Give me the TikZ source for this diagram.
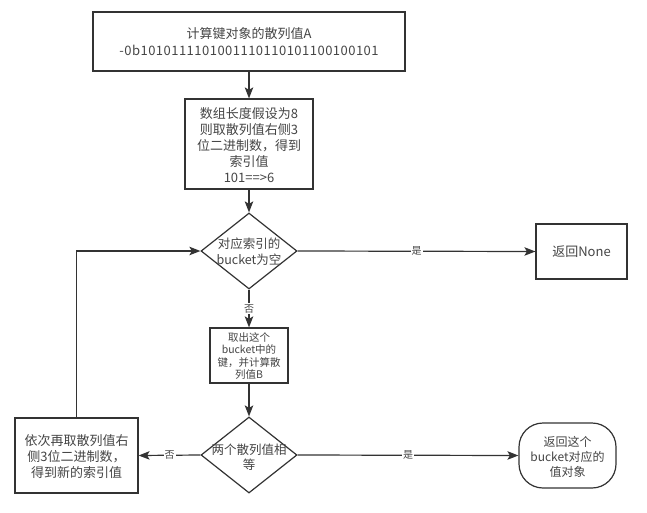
\documentclass[tikz,border=0pt]{standalone}
\usepackage{fontspec}
\newfontfamily\cjk{Noto Sans CJK SC}
\newfontfamily\cjkwide[LetterSpace=3.7]{Noto Sans CJK SC}
\usetikzlibrary{arrows.meta,shapes.geometric}
\definecolor{linec}{HTML}{333333}
\definecolor{textc}{HTML}{454545}
\tikzset{
  x=1pt,y=-1pt,
  every node/.style={text=textc},
  box/.style={draw=linec,line width=1.2pt,inner sep=0pt},
  dia/.style={draw=linec,line width=1.2pt,shape=diamond,inner sep=0pt},
  arr/.style={draw=linec,line width=1.2pt,-{Stealth[length=11pt,width=8.5pt,inset=2.5pt]}},
  lab/.style={fill=white,inner sep=1pt,font=\cjk\fontsize{10}{12}\selectfont},
  txt/.style={align=center,inner sep=0pt}
}
\begin{document}
\begin{tikzpicture}
\useasboundingbox (0,0) rectangle (647,513);
\fill[white] (0,0) rectangle (647,513);
% top box
\node[box,minimum width=312pt,minimum height=59pt] (a) at (249,41.5) {};
\node[txt,font=\cjk\fontsize{13}{17}\selectfont] (at) at (a) {计算键对象的散列值A\\{\cjkwide -0b1010111101001110110101100100101}};
% box 2
\node[box,minimum width=128pt,minimum height=90pt] (b) at (249,144) {};
\node[txt,font=\cjk\fontsize{13}{16}\selectfont] (bt) at (249,145) {数组长度假设为8\\则取散列值右侧3\\位二进制数，得到\\索引值\\101==>6};
% diamond 1
\node[dia,minimum width=96pt,minimum height=76pt] (c) at (249,251) {};
\node[txt,font=\cjk\fontsize{12.5}{16}\selectfont] (ct) at (249,252) {对应索引的\\bucket为空};
% return None
\node[box,minimum width=91pt,minimum height=55pt] (n) at (581.5,251.5) {};
\node[txt,font=\cjk\fontsize{13}{16}\selectfont] (nt) at (n) {返回None};
% box 3
\node[box,minimum width=78pt,minimum height=55pt] (d) at (249,355.5) {};
\node[txt,font=\cjk\fontsize{10.5}{12.5}\selectfont] (dt) at (249,356) {取出这个\\bucket中的\\键，并计算散\\列值B};
% diamond 2
\node[dia,minimum width=96pt,minimum height=76pt] (e) at (249,455) {};
\node[txt,font=\cjk\fontsize{12.5}{15}\selectfont] (et) at (249,457) {两个散列值相\\等};
% left box
\node[box,minimum width=123pt,minimum height=75pt] (f) at (76.5,455.5) {};
\node[txt,font=\cjk\fontsize{13}{16}\selectfont] (ft) at (76.5,457) {依次再取散列值右\\侧3位二进制数，\\得到新的索引值};
% rounded box
\node[box,rounded corners=24pt,minimum width=97pt,minimum height=65pt] (g) at (567.5,455.5) {};
\node[txt,font=\cjk\fontsize{12}{15}\selectfont] (gt) at (567.5,456.5) {返回这个\\bucket对应的\\值对象};
% connectors
\draw[arr] (a.south) -- (b.north);
\draw[arr] (b.south) -- (c.north);
\draw[arr] (c.east) -- node[lab,pos=0.5] {是} (n.west);
\draw[arr] (c.south) -- node[lab,pos=0.5] {否} (d.north);
\draw[arr] (d.south) -- (e.north);
\draw[arr] (e.west) -- node[lab,pos=0.5] {否} (f.east);
\draw[arr] (e.east) -- node[lab,pos=0.5] {是} (g.west);
\draw[arr] (f.north) -- (f.north |- c.west) -- (c.west);
\end{tikzpicture}
\end{document}
